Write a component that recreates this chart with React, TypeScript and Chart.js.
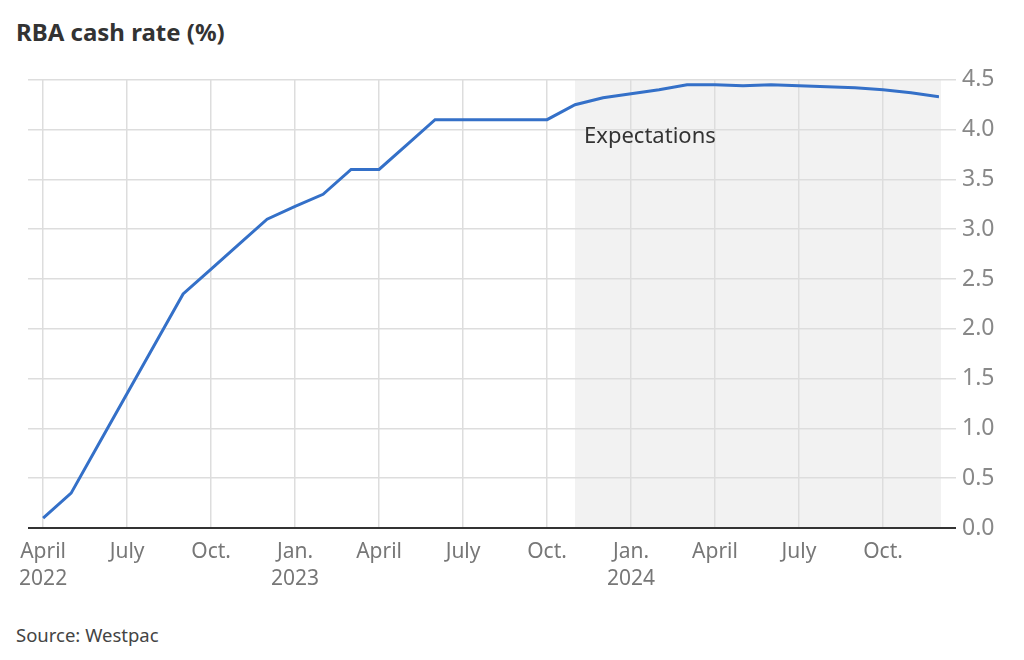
import React, { useEffect, useRef } from "react";
import { Chart, registerables } from "chart.js";

Chart.register(...registerables);

// Monthly observations / expectations, April 2022 – December 2024
const months: string[] = [
  "2022-04", "2022-05", "2022-06", "2022-07", "2022-08", "2022-09", "2022-10", "2022-11", "2022-12",
  "2023-01", "2023-02", "2023-03", "2023-04", "2023-05", "2023-06", "2023-07", "2023-08", "2023-09",
  "2023-10", "2023-11", "2023-12",
  "2024-01", "2024-02", "2024-03", "2024-04", "2024-05", "2024-06", "2024-07", "2024-08", "2024-09",
  "2024-10", "2024-11", "2024-12",
];
const cashRate: number[] = [
  0.10, 0.35, 0.85, 1.35, 1.85, 2.35, 2.60, 2.85, 3.10,
  3.23, 3.35, 3.60, 3.60, 3.85, 4.10, 4.10, 4.10, 4.10,
  4.10, 4.25, 4.32,
  4.36, 4.40, 4.45, 4.45, 4.44, 4.45, 4.44, 4.43, 4.42,
  4.40, 4.37, 4.33,
];
const tickMonths: string[] = [
  "2022-04", "2022-07", "2022-10", "2023-01", "2023-04", "2023-07",
  "2023-10", "2024-01", "2024-04", "2024-07", "2024-10",
];
const tickLabels: string[][] = [
  ["April", "2022"], ["July"], ["Oct."], ["Jan.", "2023"], ["April"], ["July"],
  ["Oct."], ["Jan.", "2024"], ["April"], ["July"], ["Oct."],
];
const yTicks: number[] = [0, 0.5, 1, 1.5, 2, 2.5, 3, 3.5, 4, 4.5];
const expectationsStart = "2023-11";
const expectationsLabel = "Expectations";
const title = "RBA cash rate (%)";
const source = "Source: Westpac";

const FONT = "'Noto Sans', 'Open Sans', sans-serif";

export default function App() {
  const canvasRef = useRef<HTMLCanvasElement | null>(null);

  useEffect(() => {
    document.body.style.margin = "0";
    const canvas = canvasRef.current;
    if (!canvas) return;

    const points = cashRate.map((v, i) => ({ x: i, y: v }));
    const tickIdx = tickMonths.map((m) => months.indexOf(m));
    const shadeIdx = months.indexOf(expectationsStart);

    const shadePlugin = {
      id: "shade",
      beforeDraw(chart: any) {
        const { ctx, chartArea, scales } = chart;
        const x0 = scales.x.getPixelForValue(shadeIdx);
        ctx.save();
        ctx.fillStyle = "#f2f2f2";
        ctx.fillRect(x0, chartArea.top, chartArea.right + 2 - x0, chartArea.bottom - chartArea.top);
        ctx.restore();
      },
      beforeDatasetsDraw(chart: any) {
        const { ctx, scales } = chart;
        const x0 = scales.x.getPixelForValue(shadeIdx);
        ctx.save();
        ctx.fillStyle = "#333333";
        ctx.font = `22px ${FONT}`;
        ctx.textBaseline = "middle";
        ctx.textAlign = "left";
        ctx.fillText(expectationsLabel, x0 + 9, scales.y.getPixelForValue(3.93));
        ctx.restore();
      },
    };

    const chart = new Chart(canvas, {
      type: "line",
      data: {
        datasets: [
          {
            data: points,
            borderColor: "#3470c8",
            borderWidth: 3,
            pointRadius: 0,
            tension: 0,
            fill: false,
          },
        ],
      },
      options: {
        animation: false,
        responsive: false,
        maintainAspectRatio: false,
        layout: { padding: { left: 28, top: 17, right: 0, bottom: 0 } },
        plugins: { legend: { display: false }, tooltip: { enabled: false } },
        scales: {
          x: {
            type: "linear",
            min: -0.54,
            max: months.length - 1,
            afterBuildTicks(scale: any) {
              scale.ticks = tickIdx.map((v) => ({ value: v }));
            },
            afterFit(scale: any) {
              scale.height = 72;
            },
            ticks: {
              autoSkip: false,
              maxRotation: 0,
              color: "#777777",
              font: { family: FONT, size: 21, lineHeight: 1.3 },
              padding: 10,
              callback(value: any) {
                const i = tickIdx.indexOf(Number(value));
                return i >= 0 ? tickLabels[i] : "";
              },
            },
            grid: { color: "#dddddd", lineWidth: 1.5, drawTicks: false },
            border: { display: false },
          },
          y: {
            position: "right",
            min: 0,
            max: 4.5,
            afterBuildTicks(scale: any) {
              scale.ticks = yTicks.map((v) => ({ value: v }));
            },
            afterFit(scale: any) {
              scale.width = 85;
            },
            ticks: {
              color: "#888888",
              font: { family: FONT, size: 23 },
              padding: 6,
              callback(value: any) {
                return Number(value).toFixed(1);
              },
            },
            grid: {
              color: (c: any) => (c.tick && c.tick.value === 0 ? "#333333" : "#dddddd"),
              lineWidth: (c: any) => (c.tick && c.tick.value === 0 ? 2 : 1.5),
              tickLength: 17,
            },
            border: { display: false },
          },
        },
      },
      plugins: [shadePlugin],
    });

    return () => chart.destroy();
  }, []);

  return (
    <div style={{ position: "fixed", left: 0, top: 0, width: 1024, height: 660, background: "#fff", fontFamily: FONT }}>
      <div style={{ position: "absolute", left: 16, top: 15, fontSize: 24, lineHeight: "34px", fontWeight: 700, color: "#333" }}>{title}</div>
      <canvas ref={canvasRef} width={1024} height={540} style={{ position: "absolute", left: 0, top: 60, width: 1024, height: 540 }} />
      <div style={{ position: "absolute", left: 16, top: 622, fontSize: 18.5, lineHeight: "26px", color: "#444" }}>{source}</div>
    </div>
  );
}
